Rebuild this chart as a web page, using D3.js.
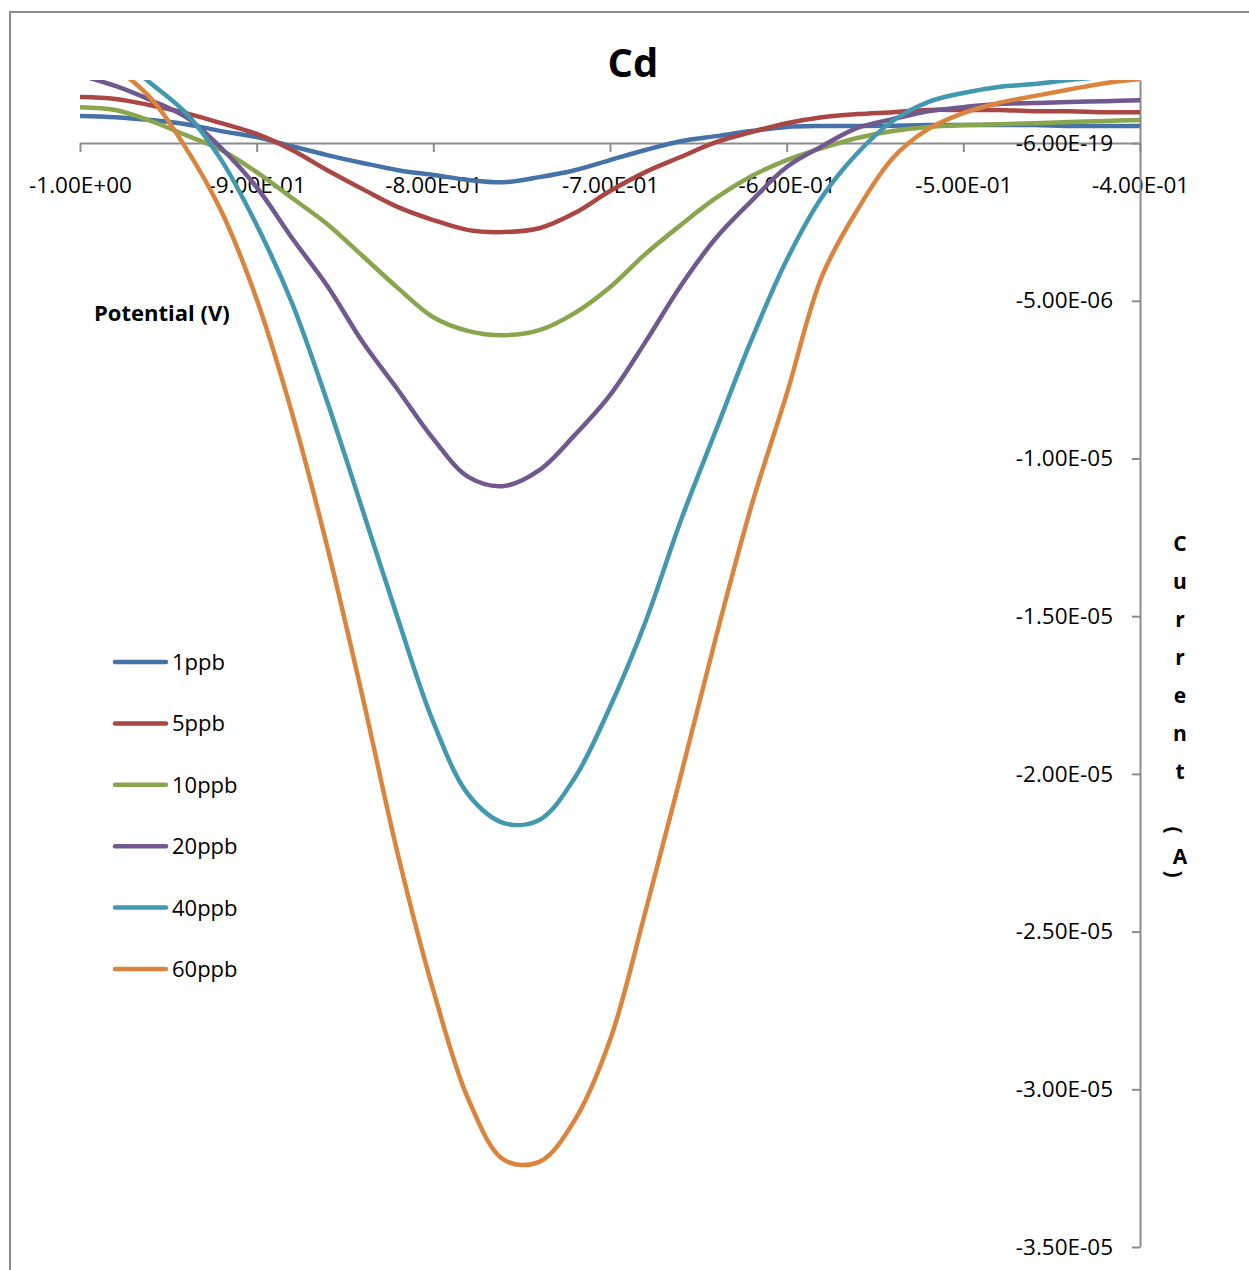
<!DOCTYPE html>
<html>
<head>
<meta charset="utf-8">
<script src="https://cdn.jsdelivr.net/npm/d3@7"></script>
<style>
  body{margin:0;background:#fff;}
  svg{display:block;}
</style>
</head>
<body>
<svg id="chart" width="1249" height="1270"></svg>
<script>
// potential grid (V)
const potential=[-1.00,-0.98,-0.96,-0.94,-0.92,-0.90,-0.88,-0.86,-0.84,-0.82,-0.80,-0.78,-0.76,-0.74,-0.72,-0.70,
  -0.68,-0.66,-0.64,-0.62,-0.60,-0.58,-0.56,-0.54,-0.52,-0.50,-0.48,-0.46,-0.44,-0.42,-0.40];

// current in microampere
const cd_1ppb=[0.86,0.82,0.73,0.60,0.38,0.19,-0.10,-0.38,-0.63,-0.86,-1.01,-1.17,-1.24,-1.08,-0.86,-0.54,
  -0.22,0.06,0.22,0.38,0.51,0.54,0.54,0.55,0.57,0.57,0.57,0.57,0.54,0.54,0.54];
const cd_5ppb=[1.46,1.40,1.20,0.95,0.63,0.29,-0.22,-0.86,-1.46,-2.03,-2.44,-2.76,-2.82,-2.70,-2.22,-1.52,
  -0.92,-0.44,0.03,0.35,0.63,0.82,0.92,0.98,1.05,1.05,1.05,1.01,1.01,0.98,0.98];
const cd_10ppb=[1.14,1.05,0.70,0.25,-0.22,-0.92,-1.74,-2.57,-3.58,-4.60,-5.52,-5.96,-6.09,-5.93,-5.39,-4.57,
  -3.52,-2.60,-1.74,-1.05,-0.54,-0.16,0.16,0.38,0.51,0.57,0.60,0.63,0.67,0.70,0.73];
const cd_20ppb=[2.15,1.81,1.36,0.82,-0.16,-1.40,-3.01,-4.53,-6.31,-7.83,-9.38,-10.59,-10.87,-10.37,-9.26,-7.99,
  -6.31,-4.53,-3.01,-1.84,-0.76,-0.10,0.48,0.76,1.01,1.14,1.24,1.27,1.30,1.33,1.36];
const cd_40ppb=[3.50,2.80,1.90,0.95,-0.54,-2.60,-5.07,-8.21,-11.64,-15.09,-18.36,-20.67,-21.56,-21.46,-20.13,-17.88,
  -15.19,-11.98,-9.10,-6.25,-3.71,-1.71,-0.32,0.70,1.30,1.59,1.78,1.87,2.00,2.10,2.20];
const cd_60ppb=[3.20,2.40,1.43,-0.16,-2.16,-4.95,-8.56,-12.81,-17.57,-22.57,-26.86,-30.34,-32.24,-32.30,-30.98,-28.44,
  -24.38,-20.07,-15.66,-11.51,-7.96,-4.22,-2.12,-0.48,0.44,0.95,1.27,1.49,1.70,1.90,2.03];

const series_names=["1ppb","5ppb","10ppb","20ppb","40ppb","60ppb"];
const series_values=[cd_1ppb,cd_5ppb,cd_10ppb,cd_20ppb,cd_40ppb,cd_60ppb];
const series_colors=["#4572A7","#AA4643","#89A54E","#71588F","#4198AF","#DB843D"];

const x_ticks=[-1.0,-0.9,-0.8,-0.7,-0.6,-0.5,-0.4];
const x_tick_labels=["-1.00E+00","-9.00E-01","-8.00E-01","-7.00E-01","-6.00E-01","-5.00E-01","-4.00E-01"];
const y_ticks=[0,-5,-10,-15,-20,-25,-30,-35];
const y_tick_labels=["-6.00E-19","-5.00E-06","-1.00E-05","-1.50E-05","-2.00E-05","-2.50E-05","-3.00E-05","-3.50E-05"];

const svg=d3.select("#chart");
const font="'Open Sans', sans-serif";

// plot area
const plot_left=80, plot_right=1140, plot_top=80, plot_bottom=1247;
const x=d3.scaleLinear().domain([-1.0,-0.4]).range([plot_left,plot_right]);
const y=d3.scaleLinear().domain([2,-35]).range([plot_top,plot_bottom]);

// outer chart border
svg.append("rect")
    .attr("x",10).attr("y",12)
    .attr("width",1300).attr("height",1300)
    .attr("fill","none")
    .attr("stroke","#8c8c8c")
    .attr("stroke-width",2);

// title
svg.append("text")
    .attr("x",633).attr("y",77)
    .attr("text-anchor","middle")
    .attr("font-family",font)
    .attr("font-weight","bold")
    .attr("font-size",40)
    .attr("fill","#000")
    .text("Cd");

// x axis (at current = 0)
const x_axis=svg.append("g")
    .attr("transform","translate(0,"+y(0)+")")
    .call(d3.axisBottom(x)
        .tickValues(x_ticks)
        .tickSize(9)
        .tickSizeOuter(0)
        .tickFormat((d,i)=>x_tick_labels[i]));
x_axis.select(".domain").attr("stroke","#8c8c8c").attr("stroke-width",2);
x_axis.selectAll(".tick line").attr("stroke","#8c8c8c").attr("stroke-width",2);
x_axis.selectAll(".tick text")
    .attr("y",34)
    .attr("font-family",font)
    .attr("font-size",22.5)
    .attr("fill","#000");

// y axis (right side)
const y_axis=svg.append("g")
    .attr("transform","translate("+plot_right+",0)")
    .call(d3.axisLeft(y)
        .tickValues(y_ticks)
        .tickSize(8)
        .tickSizeOuter(0)
        .tickFormat((d,i)=>y_tick_labels[i]));
y_axis.select(".domain").attr("stroke","#8c8c8c").attr("stroke-width",2);
y_axis.selectAll(".tick line").attr("stroke","#8c8c8c").attr("stroke-width",2);
y_axis.selectAll(".tick text")
    .attr("x",-27)
    .attr("font-family",font)
    .attr("font-size",22.5)
    .attr("fill","#000");

// axis titles
svg.append("text")
    .attr("x",94).attr("y",321)
    .attr("font-family",font)
    .attr("font-weight","bold")
    .attr("font-size",22)
    .attr("fill","#000")
    .text("Potential (V)");

const y_title=svg.append("g")
    .attr("font-family",font)
    .attr("font-weight","bold")
    .attr("font-size",21)
    .attr("fill","#000")
    .attr("text-anchor","middle");
const letters=["C","u","r","r","e","n","t"];
letters.forEach((ch,i)=>{
    y_title.append("text")
        .attr("x",1180)
        .attr("y",551+i*38)
        .text(ch);
});
// parentheses are turned sideways
y_title.append("text")
    .attr("transform","translate(1173,830) rotate(90)")
    .attr("dominant-baseline","middle")
    .text("(");
y_title.append("text")
    .attr("x",1180).attr("y",864)
    .text("A");
y_title.append("text")
    .attr("transform","translate(1173,874) rotate(90)")
    .attr("dominant-baseline","middle")
    .text(")");

// clip
svg.append("clipPath")
    .attr("id","plot_clip")
    .append("rect")
    .attr("x",plot_left).attr("y",plot_top)
    .attr("width",plot_right-plot_left).attr("height",plot_bottom-plot_top);

// curves
const line=d3.line()
    .x(d=>x(d[0]))
    .y(d=>y(d[1]))
    .curve(d3.curveCatmullRom.alpha(0.5));

const plot=svg.append("g").attr("clip-path","url(#plot_clip)");
series_values.forEach((vals,i)=>{
    plot.append("path")
        .datum(potential.map((p,j)=>[p,vals[j]]))
        .attr("d",line)
        .attr("fill","none")
        .attr("stroke",series_colors[i])
        .attr("stroke-width",4.5)
        .attr("stroke-linejoin","round")
        .attr("stroke-linecap","round");
});

// legend
const legend=svg.append("g");
series_names.forEach((name,i)=>{
    const ly=662+i*61.4;
    legend.append("line")
        .attr("x1",115).attr("x2",166)
        .attr("y1",ly).attr("y2",ly)
        .attr("stroke",series_colors[i])
        .attr("stroke-width",4.5)
        .attr("stroke-linecap","round");
    legend.append("text")
        .attr("x",172).attr("y",ly+8)
        .attr("font-family",font)
        .attr("font-size",22)
        .attr("fill","#000")
        .text(name);
});
</script>
</body>
</html>
